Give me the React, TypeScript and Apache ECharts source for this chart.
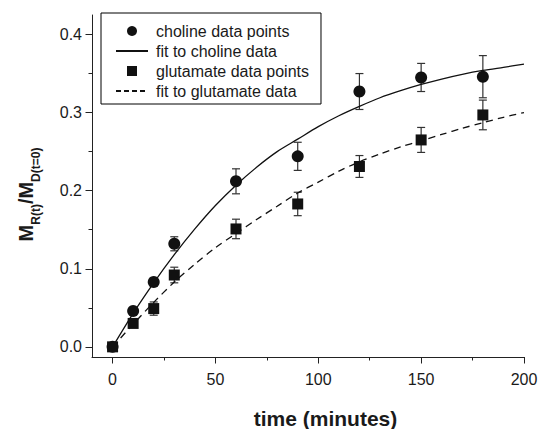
import React, { useEffect, useRef } from 'react';
import * as echarts from 'echarts';

// Measured time points (minutes)
const times = [0, 10, 20, 30, 60, 90, 120, 150, 180];
const cholineValues = [0, 0.046, 0.083, 0.132, 0.212, 0.244, 0.327, 0.345, 0.346];
const cholineErrors = [0, 0.004, 0.005, 0.009, 0.016, 0.018, 0.023, 0.018, 0.027];
const glutamateValues = [0, 0.030, 0.049, 0.092, 0.151, 0.183, 0.231, 0.265, 0.297];
const glutamateErrors = [0, 0.003, 0.0085, 0.010, 0.0125, 0.015, 0.014, 0.016, 0.019];

// Fit curves
const fitTimes = [0, 10, 20, 30, 40, 50, 60, 70, 80, 90, 100, 110, 120, 130, 140, 150, 160, 170, 180, 190, 200];
const cholineFit = [0, 0.043, 0.082, 0.118, 0.151, 0.181, 0.207, 0.230, 0.250, 0.266, 0.282, 0.296, 0.308, 0.319, 0.328, 0.336, 0.343, 0.349, 0.354, 0.358, 0.362];
const glutamateFit = [0, 0.029, 0.057, 0.083, 0.106, 0.127, 0.145, 0.163, 0.180, 0.197, 0.211, 0.225, 0.237, 0.247, 0.256, 0.264, 0.272, 0.280, 0.287, 0.294, 0.300];

// Axis ticks
const xTicks = [0, 50, 100, 150, 200];
const xMinorTicks = [25, 75, 125, 175];
const yTicks = [0, 0.1, 0.2, 0.3, 0.4];
const yMinorTicks = [0.05, 0.15, 0.25, 0.35];

const legendNames = ['choline data points', 'fit to choline data', 'glutamate data points', 'fit to glutamate data'];

const FONT = '"Liberation Sans", Arial, Helvetica, sans-serif';
const INK = '#111111';
const TEXT = '#1a1a1a';

const X_MIN = -10;
const X_MAX = 200;
const Y_MIN = -0.013;
const Y_MAX = 0.425;

function errorBarSeries(name: string, vals: number[], errs: number[]) {
  return {
    name,
    type: 'custom',
    xAxisIndex: 0,
    yAxisIndex: 0,
    z: 1,
    silent: true,
    data: times.map((t, i) => [t, vals[i], errs[i]]),
    encode: { x: 0, y: 1 },
    renderItem: (params: any, api: any) => {
      const x = api.value(0);
      const y = api.value(1);
      const e = api.value(2);
      if (!e) return { type: 'group', children: [] };
      const top = api.coord([x, y + e]);
      const bot = api.coord([x, y - e]);
      const hw = 4;
      const style = { stroke: '#333333', lineWidth: 1.2 };
      return {
        type: 'group',
        children: [
          { type: 'line', shape: { x1: top[0], y1: top[1], x2: bot[0], y2: bot[1] }, style },
          { type: 'line', shape: { x1: top[0] - hw, y1: top[1], x2: top[0] + hw, y2: top[1] }, style },
          { type: 'line', shape: { x1: bot[0] - hw, y1: bot[1], x2: bot[0] + hw, y2: bot[1] }, style },
        ],
      };
    },
  };
}

export default function App() {
  const ref = useRef<HTMLDivElement>(null);

  useEffect(() => {
    if (!ref.current) return;
    const chart = echarts.init(ref.current, undefined, { renderer: 'svg' });

    const hiddenSymbol = { color: 'rgba(0,0,0,0)', opacity: 0, borderWidth: 0 };

    const option: any = {
      animation: false,
      backgroundColor: '#ffffff',
      textStyle: { fontFamily: FONT },
      grid: {
        left: 92,
        right: 15,
        top: 15,
        bottom: 72,
        containLabel: false,
        outerBoundsMode: 'none',
      },
      legend: {
        data: [
          { name: legendNames[0] },
          { name: legendNames[1], itemStyle: hiddenSymbol },
          { name: legendNames[2], icon: 'path://M0,0L10,0L10,10L0,10Z' },
          { name: legendNames[3], itemStyle: hiddenSymbol, lineStyle: { type: [5, 3] } },
        ],
        orient: 'vertical',
        left: 101,
        top: 13,
        padding: [10, 12, 5, 14],
        itemGap: 4,
        itemWidth: 32,
        itemHeight: 10,
        borderColor: '#000000',
        borderWidth: 1,
        selectedMode: false,
        textStyle: { fontSize: 16, lineHeight: 16, color: TEXT, fontFamily: FONT, padding: [0, 0, 0, 3] },
      },
      xAxis: [
        {
          type: 'value',
          min: X_MIN,
          max: X_MAX,
          position: 'bottom',
          name: 'time (minutes)',
          nameLocation: 'middle',
          nameGap: 51,
          nameTextStyle: { fontSize: 21, lineHeight: 21, fontWeight: 'bold', color: TEXT, fontFamily: FONT, padding: [0, 0, 0, 35] },
          axisLine: { show: true, onZero: false, lineStyle: { color: '#222222', width: 1 } },
          axisTick: { show: true, inside: false, length: 6.5, customValues: xTicks, lineStyle: { color: '#222222', width: 1 } },
          axisLabel: { show: true, customValues: xTicks, margin: 14, fontSize: 16, color: TEXT, fontFamily: FONT },
          splitLine: { show: false },
        },
        {
          type: 'value',
          min: X_MIN,
          max: X_MAX,
          position: 'bottom',
          axisLine: { show: false, onZero: false },
          axisTick: { show: true, inside: false, length: 3.5, customValues: xMinorTicks, lineStyle: { color: '#222222', width: 1 } },
          axisLabel: { show: false },
          splitLine: { show: false },
        },
      ],
      yAxis: [
        {
          type: 'value',
          min: Y_MIN,
          max: Y_MAX,
          position: 'left',
          name: '{m|M}{s|R(t)}{m|/M}{s|D(t=0)}',
          nameLocation: 'middle',
          nameRotate: 90,
          nameGap: 56,
          nameTextStyle: {
            padding: [0, 17, 0, 0],
            rich: {
              m: { fontSize: 20, lineHeight: 20, fontWeight: 'bold', color: TEXT, fontFamily: FONT, verticalAlign: 'top' },
              s: { fontSize: 12, lineHeight: 12, fontWeight: 'bold', color: TEXT, fontFamily: FONT, verticalAlign: 'top', padding: [14, 0, 0, 0] },
            },
          },
          axisLine: { show: true, onZero: false, lineStyle: { color: '#222222', width: 1 } },
          axisTick: { show: true, inside: false, length: 6.5, customValues: yTicks, lineStyle: { color: '#222222', width: 1 } },
          axisLabel: {
            show: true,
            customValues: yTicks,
            margin: 10,
            fontSize: 16,
            color: TEXT,
            fontFamily: FONT,
            formatter: (v: number) => v.toFixed(1),
          },
          splitLine: { show: false },
        },
        {
          type: 'value',
          min: Y_MIN,
          max: Y_MAX,
          position: 'left',
          axisLine: { show: false, onZero: false },
          axisTick: { show: true, inside: false, length: 3.5, customValues: yMinorTicks, lineStyle: { color: '#222222', width: 1 } },
          axisLabel: { show: false },
          splitLine: { show: false },
        },
      ],
      series: [
        errorBarSeries('choline errors', cholineValues, cholineErrors),
        errorBarSeries('glutamate errors', glutamateValues, glutamateErrors),
        {
          name: legendNames[1],
          type: 'line',
          xAxisIndex: 0,
          yAxisIndex: 0,
          data: fitTimes.map((t, i) => [t, cholineFit[i]]),
          smooth: 0.3,
          symbol: 'none',
          showSymbol: false,
          z: 2,
          lineStyle: { color: INK, width: 1.3, type: 'solid' },
          itemStyle: { color: INK },
        },
        {
          name: legendNames[3],
          type: 'line',
          xAxisIndex: 0,
          yAxisIndex: 0,
          data: fitTimes.map((t, i) => [t, glutamateFit[i]]),
          smooth: 0.3,
          symbol: 'none',
          showSymbol: false,
          z: 2,
          lineStyle: { color: INK, width: 1.3, type: [7, 5] },
          itemStyle: { color: INK },
        },
        {
          name: legendNames[0],
          type: 'scatter',
          xAxisIndex: 0,
          yAxisIndex: 0,
          symbol: 'circle',
          symbolSize: 12,
          z: 3,
          data: times.map((t, i) => [t, cholineValues[i]]),
          itemStyle: { color: INK, opacity: 1 },
        },
        {
          name: legendNames[2],
          type: 'scatter',
          xAxisIndex: 0,
          yAxisIndex: 0,
          symbol: 'rect',
          symbolSize: 11,
          z: 3,
          data: times.map((t, i) => [t, glutamateValues[i]]),
          itemStyle: { color: INK, opacity: 1 },
        },
      ],
    };

    chart.setOption(option);
    return () => {
      chart.dispose();
    };
  }, []);

  return (
    <div
      ref={ref}
      style={{ position: 'absolute', left: 0, top: 0, width: 539, height: 429, background: '#ffffff' }}
    />
  );
}
